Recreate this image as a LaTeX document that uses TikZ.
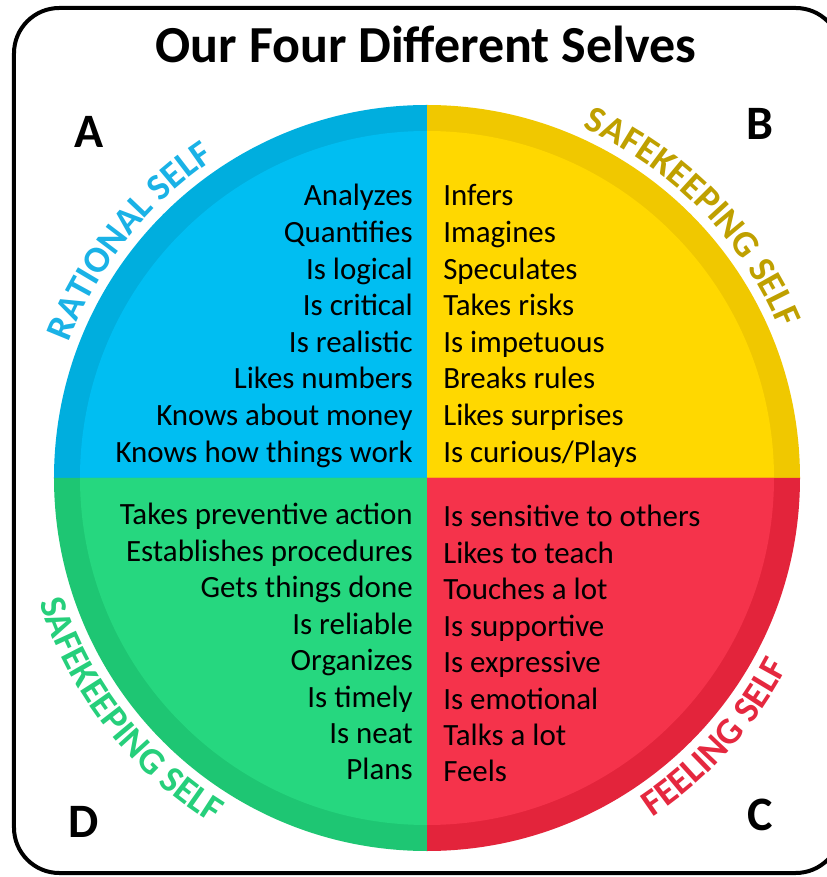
\documentclass[tikz,border=0pt]{standalone}
\usepackage{fontspec}
\setmainfont{Carlito}
\usetikzlibrary{decorations.text}

\definecolor{ratBlue}{HTML}{00BEF2}
\definecolor{ratBand}{HTML}{00AEDE}
\definecolor{ratText}{HTML}{1AB2E6}
\definecolor{safYellow}{HTML}{FFD800}
\definecolor{safBand}{HTML}{F0C800}
\definecolor{safText}{HTML}{BFA000}
\definecolor{keepGreen}{HTML}{26D77F}
\definecolor{keepBand}{HTML}{1EC673}
\definecolor{keepText}{HTML}{26CF7B}
\definecolor{feelRed}{HTML}{F5334B}
\definecolor{feelBand}{HTML}{E3243B}
\definecolor{feelText}{HTML}{E5283F}

\newcommand\listfont{\fontsize{23.2}{27.5}\selectfont}
\newcommand\arcfont{\fontsize{28}{30}\selectfont\bfseries}

\tikzset{
  listtext/.style={font=\listfont, inner sep=0pt},
  quadletter/.style={font=\fontsize{36}{40}\selectfont\bfseries, inner sep=0pt},
}

\begin{document}
\begin{tikzpicture}[x=0.75pt, y=0.75pt]

      % --- Define Dimensions ---
      \def\outR{373}
      \def\inR{347}
      \useasboundingbox (-427,-399) rectangle (399,478);

      % --- Outer Frame ---
      \draw[line width=3pt, rounded corners=34pt] (-413,-395) rectangle (414,470);

      % --- Quadrants (band + inner face) ---
      \foreach \sa/\band/\face in {90/ratBand/ratBlue, 0/safBand/safYellow, 180/keepBand/keepGreen, 270/feelBand/feelRed} {
        \fill[\band] (0,0) -- (\sa:\outR) arc[start angle=\sa, end angle=\sa+90, radius=\outR] -- cycle;
        \fill[\face] (0,0) -- (\sa:\inR) arc[start angle=\sa, end angle=\sa+90, radius=\inR] -- cycle;
      }

      % --- Title ---
      \node[font=\fontsize{39}{45}\selectfont\bfseries, anchor=base] (title) at (-1,415) {Our Four Different Selves};

      % --- Quadrant Letters ---
      \node[quadletter] (A) at (-338,346) {A};
      \node[quadletter] (B) at (333,354) {B};
      \node[quadletter] (C) at (333,-337) {C};
      \node[quadletter] (D) at (-343,-344) {D};

      % --- Curved Labels ---
      \path[decorate, decoration={text along path, text align=center, text color=ratText,
        text={|\arcfont|RATIONAL SELF}}]
        (171.5:383) arc[start angle=171.5, end angle=111.5, radius=383];
      \path[decorate, decoration={text along path, text align=center, text color=safText,
        text={|\arcfont|SAFEKEEPING SELF}}]
        (74.5:383) arc[start angle=74.5, end angle=14.5, radius=383];
      \path[decorate, decoration={text along path, text align=center, text color=keepText,
        text={|\arcfont|SAFEKEEPING SELF}}]
        (188:407) arc[start angle=188, end angle=248, radius=407];
      \path[decorate, decoration={text along path, text align=center, text color=feelText,
        text={|\arcfont|FEELING SELF}}]
        (288:407) arc[start angle=288, end angle=348, radius=407];

      % --- Trait Lists ---
      \foreach \t [count=\i] in {Analyzes, Quantifies, Is logical, Is critical, Is realistic, Likes numbers, Knows about money, Knows how things work} {
        \node[listtext, anchor=base east] (rat\i) at (-14,{272-(\i-1)*36.6}) {\t};
      }
      \foreach \t [count=\i] in {Infers, Imagines, Speculates, Takes risks, Is impetuous, Breaks rules, Likes surprises, Is curious/Plays} {
        \node[listtext, anchor=base west] (saf\i) at (16,{272-(\i-1)*36.6}) {\t};
      }
      \foreach \t [count=\i] in {Takes preventive action, Establishes procedures, Gets things done, Is reliable, Organizes, Is timely, Is neat, Plans} {
        \node[listtext, anchor=base east] (keep\i) at (-14,{-47-(\i-1)*36.4}) {\t};
      }
      \foreach \t [count=\i] in {Is sensitive to others, Likes to teach, Touches a lot, Is supportive, Is expressive, Is emotional, Talks a lot, Feels} {
        \node[listtext, anchor=base west] (feel\i) at (16,{-49-(\i-1)*36.4}) {\t};
      }

\end{tikzpicture}
\end{document}
